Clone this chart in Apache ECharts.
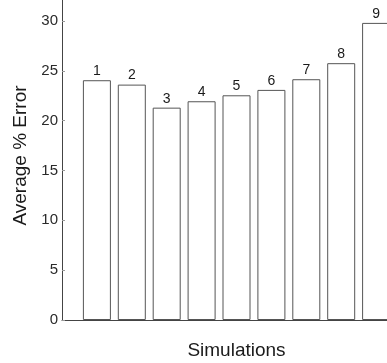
<!DOCTYPE html>
<html>
<head>
<meta charset="utf-8">
<script src="https://cdn.jsdelivr.net/npm/echarts@6/dist/echarts.min.js"></script>
<style>
  html, body { margin: 0; padding: 0; background: #fff; }
  #chart { width: 387px; height: 363px; }
</style>
</head>
<body>
<div id="chart"></div>
<script>
// Simulation index (x position) and average % error of each run
const simulations = [1, 2, 3, 4, 5, 6, 7, 8, 9];
const avgError = [24.05, 23.61, 21.30, 21.94, 22.54, 23.08, 24.15, 25.76, 29.80];
const yTicks = [0, 5, 10, 15, 20, 25, 30];

const bars = simulations.map((s, i) => [s, avgError[i]]);

const chart = echarts.init(document.getElementById('chart'), null, { renderer: 'canvas' });
chart.setOption({
  animation: false,
  backgroundColor: '#ffffff',
  grid: {
    left: 62, top: -9, width: 349, height: 329,
    containLabel: false,
    outerBoundsMode: 'none'
  },
  xAxis: {
    type: 'value',
    min: 0,
    max: 10,
    name: 'Simulations',
    nameLocation: 'middle',
    nameGap: 21,
    nameTextStyle: { fontFamily: 'Liberation Sans', fontSize: 19, color: '#1a1a1a' },
    axisLine: { show: true, lineStyle: { color: '#444', width: 1 } },
    axisTick: { show: false },
    axisLabel: { show: false },
    splitLine: { show: false }
  },
  yAxis: {
    type: 'value',
    min: 0,
    max: 33,
    interval: 5,
    name: 'Average % Error',
    nameLocation: 'middle',
    nameGap: 28,
    nameTextStyle: { fontFamily: 'Liberation Sans', fontSize: 19, color: '#1a1a1a' },
    axisLine: { show: true, lineStyle: { color: '#444', width: 1 } },
    axisTick: { show: true, inside: true, length: 3, lineStyle: { color: '#999' } },
    axisLabel: {
      margin: 4,
      fontFamily: 'Liberation Sans',
      fontSize: 15,
      color: '#2a2a2a',
      formatter: v => (yTicks.includes(v) ? String(v) : '')
    },
    splitLine: { show: false }
  },
  series: [{
    type: 'bar',
    data: bars,
    barWidth: 28,
    itemStyle: { color: '#ffffff', borderColor: '#555', borderWidth: 1 },
    label: {
      show: true,
      position: 'top',
      distance: 2,
      fontFamily: 'Liberation Sans',
      fontSize: 14,
      color: '#1a1a1a',
      formatter: p => String(p.value[0])
    }
  }]
});
</script>
</body>
</html>
